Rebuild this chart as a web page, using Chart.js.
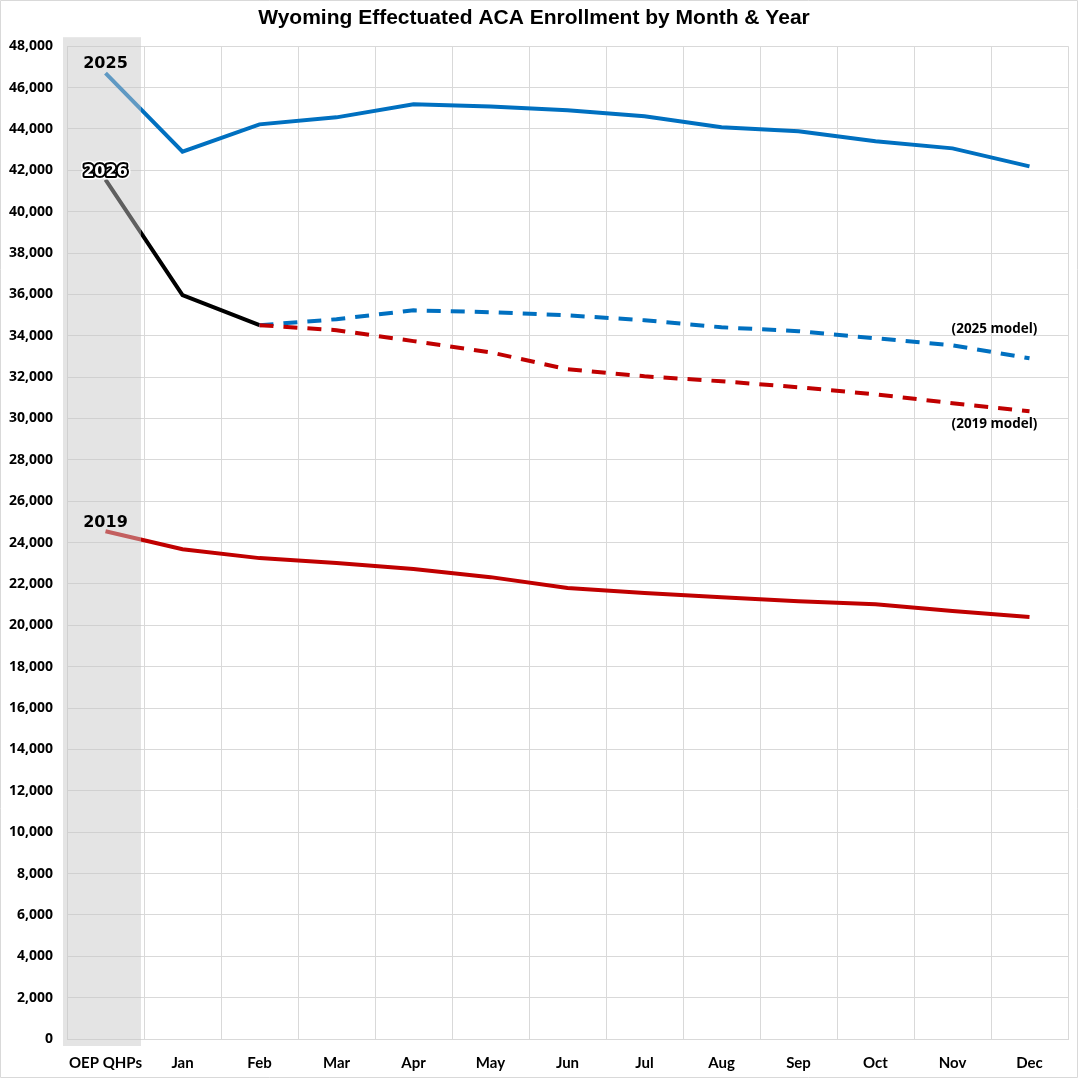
<!DOCTYPE html>
<html>
<head>
<meta charset="utf-8">
<script src="https://cdn.jsdelivr.net/npm/chart.js@4/dist/chart.umd.min.js"></script>
<style>
  html, body { margin: 0; padding: 0; background: #fff; }
  #wrap { width: 1081px; height: 1080px; position: relative; }
</style>
</head>
<body>
<div id="wrap"><canvas id="wyChart"></canvas></div>
<script>
// ================================================================
//  DATOS
// ================================================================
const meses = ['OEP QHPs', 'Jan', 'Feb', 'Mar', 'Apr', 'May', 'Jun', 'Jul', 'Aug', 'Sep', 'Oct', 'Nov', 'Dec'];

const datos2025 = [46700, 42900, 44220, 44560, 45190, 45090, 44900, 44610, 44080, 43890, 43400, 43060, 42190];
const datos2026 = [41550, 35960, 34510, null, null, null, null, null, null, null, null, null, null];
const modelo2025 = [null, null, 34510, 34800, 35230, 35140, 34990, 34750, 34410, 34220, 33880, 33540, 32910];
const modelo2019 = [null, null, 34510, 34270, 33740, 33200, 32380, 32040, 31800, 31510, 31170, 30740, 30350];
const datos2019 = [24550, 23680, 23250, 23010, 22720, 22330, 21800, 21560, 21360, 21170, 21020, 20690, 20400];

const AZUL = '#0070C0';
const ROJO = '#C00000';
const NEGRO = '#000000';

// ================================================================
//  PLUGINS
// ================================================================
const bandaOEP = {
    id: 'bandaOEP',
    afterDatasetsDraw(chart) {
        const { ctx, chartArea, scales } = chart;
        const x0 = scales.x.getPixelForValue(0);
        const x1 = scales.x.getPixelForValue(1);
        ctx.save();
        ctx.fillStyle = 'rgba(198,198,198,0.48)';
        ctx.fillRect(chartArea.left - 4, chartArea.top - 9, (x0 + x1) / 2 - 3 - (chartArea.left - 4), chartArea.bottom - chartArea.top + 16);
        ctx.restore();
    }
};

const etiquetas = {
    id: 'etiquetas',
    afterDraw(chart) {
        const { ctx, scales } = chart;
        const x = scales.x, y = scales.y;
        ctx.save();
        ctx.textAlign = 'center';
        ctx.textBaseline = 'middle';
        ctx.font = 'bold 16px "DejaVu Sans", sans-serif';

        const px = x.getPixelForValue(0);
        ctx.fillStyle = '#000';
        ctx.fillText('2025', px, y.getPixelForValue(datos2025[0]) - 9);
        ctx.fillText('2019', px, y.getPixelForValue(datos2019[0]) - 8);

        // 2026: relleno blanco, contorno negro y halo blanco
        const y26 = y.getPixelForValue(datos2026[0]) - 8;
        ctx.lineJoin = 'round';
        ctx.lineWidth = 7;
        ctx.strokeStyle = '#fff';
        ctx.strokeText('2026', px, y26);
        ctx.lineWidth = 4;
        ctx.strokeStyle = '#000';
        ctx.strokeText('2026', px, y26);
        ctx.fillStyle = '#fff';
        ctx.fillText('2026', px, y26);

        // Etiquetas de modelos
        ctx.fillStyle = '#000';
        ctx.font = 'bold 13.5px "Open Sans", sans-serif';
        const ult = meses.length - 1;
        const pxDec = x.getPixelForValue(ult);
        ctx.fillText('(2025 model)', pxDec - 35, y.getPixelForValue(modelo2025[ult]) - 29);
        ctx.fillText('(2019 model)', pxDec - 35, y.getPixelForValue(modelo2019[ult]) + 13);

        // Marco exterior
        ctx.strokeStyle = '#d9d9d9';
        ctx.lineWidth = 1;
        ctx.strokeRect(0.5, 0.5, 1077, 1077);
        ctx.restore();
    }
};

// ================================================================
//  GRÁFICO
// ================================================================
function serie(label, data, color, dash) {
    return {
        label: label,
        data: data,
        borderColor: color,
        backgroundColor: color,
        borderWidth: 4,
        borderDash: dash || [],
        pointRadius: 0,
        tension: 0,
        fill: false,
        spanGaps: false
    };
}

const ctx = document.getElementById('wyChart').getContext('2d');
new Chart(ctx, {
    type: 'line',
    data: {
        labels: meses,
        datasets: [
            serie('2019', datos2019, ROJO),
            serie('2019 model', modelo2019, ROJO, [14, 10]),
            serie('2025 model', modelo2025, AZUL, [14, 10]),
            serie('2025', datos2025, AZUL),
            serie('2026', datos2026, NEGRO)
        ]
    },
    options: {
        responsive: true,
        maintainAspectRatio: false,
        animation: false,
        layout: { padding: { left: 0, right: 13, top: 0, bottom: 0 } },
        plugins: {
            legend: { display: false },
            tooltip: { enabled: false },
            title: {
                display: true,
                text: 'Wyoming Effectuated ACA Enrollment by Month & Year',
                color: '#000',
                font: { family: '"Liberation Sans", Arial, sans-serif', size: 21, weight: 'bold' },
                padding: { top: 6, bottom: 15 }
            }
        },
        scales: {
            x: {
                offset: true,
                grid: { offset: true, color: '#d9d9d9', drawTicks: false },
                border: { color: '#d9d9d9' },
                ticks: {
                    color: '#000',
                    padding: 15,
                    maxRotation: 0,
                    autoSkip: false,
                    font: { family: 'Lato, "Open Sans", sans-serif', size: 15, weight: 'bold' }
                },
                afterFit(scale) { scale.height = 41; }
            },
            y: {
                min: 0,
                max: 48000,
                grid: { color: '#d9d9d9', drawTicks: false },
                border: { color: '#d9d9d9' },
                ticks: {
                    stepSize: 2000,
                    color: '#000',
                    padding: 14,
                    font: { family: '"Open Sans", sans-serif', size: 14, weight: 'bold' },
                    callback: (v) => v.toLocaleString('en-US')
                },
                afterFit(scale) { scale.width = 67; }
            }
        }
    },
    plugins: [bandaOEP, etiquetas]
});
</script>
</body>
</html>
